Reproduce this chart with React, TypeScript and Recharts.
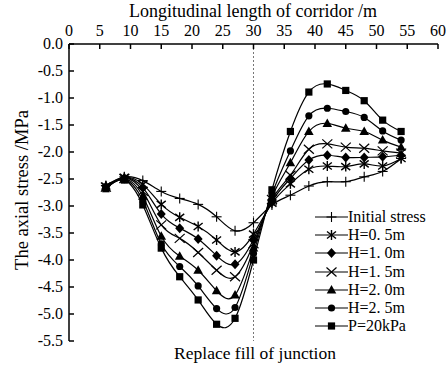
import React from 'react';
import { LineChart, Line, XAxis, YAxis, ReferenceLine } from 'recharts';

const xs = [6, 9, 12, 15, 18, 21, 24, 27, 30, 33, 36, 39, 42, 45, 48, 51, 54];
const initialStress = [-2.62, -2.46, -2.53, -2.73, -2.86, -2.97, -3.2, -3.46, -3.31, -2.98, -2.8, -2.63, -2.55, -2.55, -2.46, -2.36, -2.12];
const h05 = [-2.63, -2.47, -2.6, -2.97, -3.21, -3.38, -3.63, -3.85, -3.52, -2.95, -2.59, -2.32, -2.26, -2.27, -2.22, -2.26, -2.12];
const h10 = [-2.64, -2.48, -2.66, -3.15, -3.41, -3.61, -3.92, -4.08, -3.62, -2.92, -2.49, -2.15, -2.06, -2.1, -2.1, -2.09, -2.06];
const h15 = [-2.65, -2.49, -2.73, -3.35, -3.6, -3.86, -4.19, -4.31, -3.7, -2.88, -2.43, -1.95, -1.85, -1.91, -1.93, -1.98, -2.02];
const h20 = [-2.66, -2.5, -2.82, -3.56, -3.93, -4.19, -4.57, -4.65, -3.78, -2.83, -2.2, -1.62, -1.47, -1.56, -1.62, -1.78, -1.91];
const h25 = [-2.67, -2.51, -2.9, -3.7, -4.12, -4.48, -4.9, -4.88, -3.88, -2.78, -1.98, -1.33, -1.19, -1.25, -1.36, -1.61, -1.78];
const p20 = [-2.68, -2.52, -2.98, -3.78, -4.31, -4.74, -5.19, -5.08, -4.0, -2.7, -1.62, -0.89, -0.74, -0.86, -1.05, -1.41, -1.62];

const xTicks = [0, 5, 10, 15, 20, 25, 30, 35, 40, 45, 50, 55, 60];
const yTicks = [0, -0.5, -1, -1.5, -2, -2.5, -3, -3.5, -4, -4.5, -5, -5.5];

const seriesNames = ['Initial stress', 'H=0. 5m', 'H=1. 0m', 'H=1. 5m', 'H=2. 0m', 'H=2. 5m', 'P=20kPa'];
const seriesKeys = ['s0', 's1', 's2', 's3', 's4', 's5', 's6'];
const seriesMarks = ['plus', 'star', 'diamond', 'x', 'triangle', 'circle', 'square'];
const seriesValues = [initialStress, h05, h10, h15, h20, h25, p20];

const rows = xs.map((x, i) => {
  const r: any = { x };
  seriesKeys.forEach((k, j) => (r[k] = seriesValues[j][i]));
  return r;
});

const FONT = '"Liberation Serif", "Times New Roman", serif';

function Glyph({ kind, cx, cy }: { kind: string; cx: number; cy: number }) {
  switch (kind) {
    case 'plus':
      return (
        <g stroke="#000" strokeWidth={1.1}>
          <line x1={cx - 5} y1={cy} x2={cx + 5} y2={cy} />
          <line x1={cx} y1={cy - 5} x2={cx} y2={cy + 5} />
        </g>
      );
    case 'star':
      return (
        <g stroke="#000" strokeWidth={1.4}>
          <line x1={cx} y1={cy - 5} x2={cx} y2={cy + 5} />
          <line x1={cx - 4.5} y1={cy - 3.5} x2={cx + 4.5} y2={cy + 3.5} />
          <line x1={cx - 4.5} y1={cy + 3.5} x2={cx + 4.5} y2={cy - 3.5} />
        </g>
      );
    case 'diamond':
      return <polygon points={`${cx},${cy - 5} ${cx + 4.5},${cy} ${cx},${cy + 5} ${cx - 4.5},${cy}`} fill="#000" />;
    case 'x':
      return (
        <g stroke="#000" strokeWidth={1.2}>
          <line x1={cx - 5} y1={cy - 4.5} x2={cx + 5} y2={cy + 4.5} />
          <line x1={cx - 5} y1={cy + 4.5} x2={cx + 5} y2={cy - 4.5} />
        </g>
      );
    case 'triangle':
      return <polygon points={`${cx},${cy - 5} ${cx + 4.8},${cy + 3.5} ${cx - 4.8},${cy + 3.5}`} fill="#000" />;
    case 'circle':
      return <circle cx={cx} cy={cy} r={3.6} fill="#000" />;
    case 'square':
      return <rect x={cx - 3.6} y={cy - 3.6} width={7.2} height={7.2} fill="#000" />;
    default:
      return null;
  }
}

const TopTick = (props: any) => {
  const { x, y, payload } = props;
  return (
    <g>
      <line x1={x} y1={y} x2={x} y2={y + 5} stroke="#000" strokeWidth={1.5} />
      <text x={x} y={y - 8} textAnchor="middle" fontFamily={FONT} fontSize={16} fill="#000">
        {payload.value}
      </text>
    </g>
  );
};

const LeftTick = (props: any) => {
  const { x, y, payload } = props;
  return (
    <g>
      <line x1={x} y1={y} x2={x + 5} y2={y} stroke="#000" strokeWidth={1.5} />
      <text x={x - 6} y={y + 5} textAnchor="end" fontFamily={FONT} fontSize={16} fill="#000">
        {Number(payload.value).toFixed(1)}
      </text>
    </g>
  );
};

const LegendBox = () => (
  <div style={{ position: 'absolute', left: 315, top: 208, fontFamily: FONT, fontSize: 16, color: '#000' }}>
    {seriesNames.map((name, i) => (
      <div key={name} style={{ display: 'flex', alignItems: 'center', height: 18.2, whiteSpace: 'nowrap' }}>
        <svg width={33} height={18} style={{ display: 'block' }}>
          <line x1={0} y1={9} x2={33} y2={9} stroke="#000" strokeWidth={1.2} />
          <Glyph kind={seriesMarks[i]} cx={16.5} cy={9} />
        </svg>
        <span style={{ lineHeight: '18px' }}>{name}</span>
      </div>
    ))}
  </div>
);

export default function App() {
  return (
    <div style={{ position: 'absolute', left: 0, top: 0, width: 448, height: 368, background: '#fff' }}>
      <LineChart width={448} height={368} data={rows} margin={{ top: 14, right: 10, bottom: 27, left: 10 }}>
        <XAxis
          dataKey="x"
          type="number"
          orientation="top"
          domain={[0, 60]}
          ticks={xTicks}
          interval={0}
          height={30}
          tickSize={0}
          tickMargin={0}
          tickLine={false}
          axisLine={{ stroke: '#000', strokeWidth: 1.5 }}
          tick={<TopTick />}
        />
        <YAxis
          type="number"
          domain={[-5.5, 0]}
          ticks={yTicks}
          interval={0}
          width={59}
          tickSize={0}
          tickMargin={0}
          tickLine={false}
          axisLine={{ stroke: '#000', strokeWidth: 1.5 }}
          tick={<LeftTick />}
        />
        <ReferenceLine x={30} stroke="#777" strokeDasharray="2 2" strokeWidth={1} />
        {seriesKeys.map((k, i) => (
          <Line
            key={k}
            dataKey={k}
            name={seriesNames[i]}
            type="natural"
            stroke="#000"
            strokeWidth={1.2}
            isAnimationActive={false}
            dot={(p: any) => <Glyph key={`${k}-${p.index}`} kind={seriesMarks[i]} cx={p.cx} cy={p.cy} />}
            activeDot={false}
          />
        ))}
      </LineChart>
      <LegendBox />
      <div style={{ position: 'absolute', left: 69, width: 368, top: 1, textAlign: 'center', fontFamily: FONT, fontSize: 18, lineHeight: '20px' }}>
        Longitudinal length of corridor /m
      </div>
      <div style={{ position: 'absolute', left: 69, width: 372, top: 343, textAlign: 'center', fontFamily: FONT, fontSize: 17.5, lineHeight: '20px' }}>
        Replace fill of junction
      </div>
      <div
        style={{
          position: 'absolute',
          left: 22 - 110,
          top: 190 - 10,
          width: 220,
          height: 20,
          textAlign: 'center',
          fontFamily: FONT,
          fontSize: 18.5,
          lineHeight: '20px',
          transform: 'rotate(-90deg)',
          whiteSpace: 'nowrap',
        }}
      >
        The axial stress /MPa
      </div>
    </div>
  );
}
